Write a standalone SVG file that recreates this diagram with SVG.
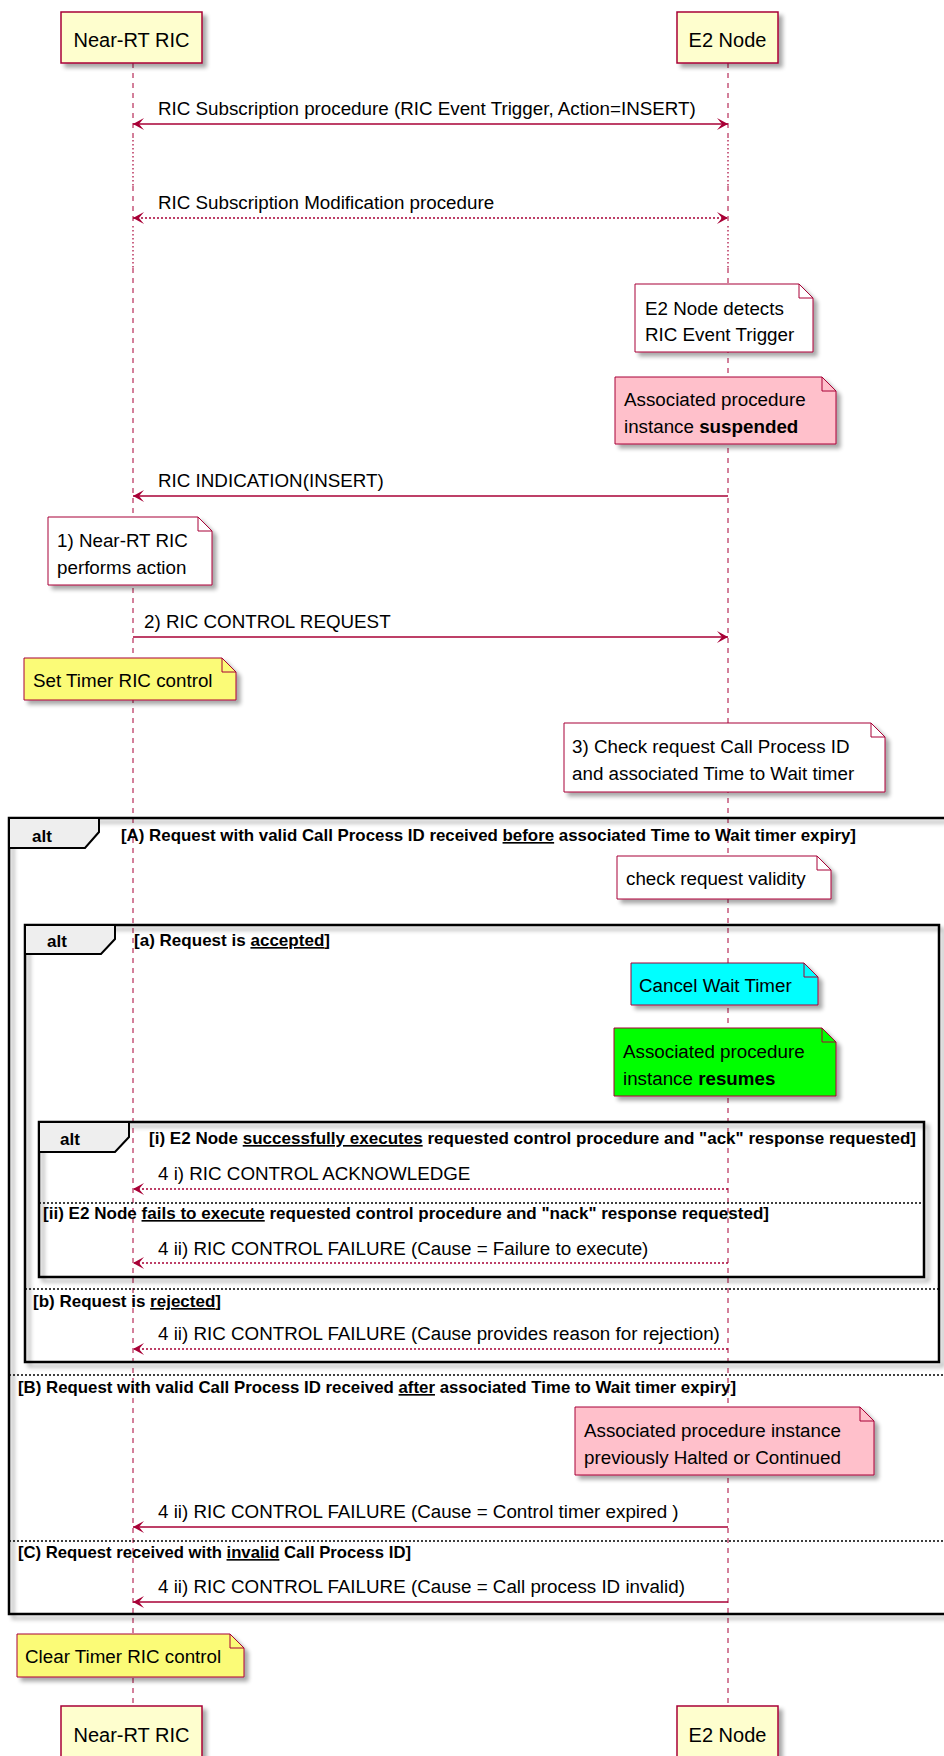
<svg xmlns="http://www.w3.org/2000/svg" width="944" height="1756" viewBox="0 0 944 1756">
<style>
.ll{stroke:#A80036;stroke-width:1;stroke-dasharray:5,5;fill:none}
.lld{stroke:#A80036;stroke-width:1.2;stroke-dasharray:1.5,2.5;fill:none}
.part{fill:#FEFECE;stroke:#A80036;stroke-width:1.5}
.msg{stroke:#A80036;stroke-width:1.5;fill:none}
.dot{stroke-dasharray:2,2}
.note{stroke:#A80036;stroke-width:1}
.frame{fill:none;stroke:#000;stroke-width:2.5}
.tab{fill:#EEEEEE;stroke:#000;stroke-width:2}
.sep{stroke:#000;stroke-width:1.5;stroke-dasharray:2,2;fill:none}
text{font-family:"Liberation Sans",Arial,sans-serif;fill:#000}
.t{font-size:18.8px}
.p{font-size:20px}
.g{font-size:16.5px;font-weight:bold}
.alt{font-size:17px;font-weight:bold}
.u{text-decoration:underline}
.b{font-weight:bold}
</style>
<defs>
<filter id="sh" x="-10%" y="-10%" width="130%" height="150%">
<feGaussianBlur in="SourceAlpha" stdDeviation="2"/>
<feOffset dx="4" dy="4" result="o"/>
<feComponentTransfer><feFuncA type="linear" slope="0.35"/></feComponentTransfer>
<feMerge><feMergeNode/><feMergeNode in="SourceGraphic"/></feMerge>
</filter>
<marker id="ah" viewBox="0 -6 11 12" refX="11" refY="0" markerWidth="11" markerHeight="12" markerUnits="userSpaceOnUse" orient="auto-start-reverse">
<path d="M0,-6 L11,0 L0,6 L5,0 Z" fill="#A80036"/>
</marker>
</defs>
<rect width="944" height="1756" fill="#fff"/>

<g id="lifelines">
<path class="ll" d="M133,63 V140 M133,186 V226 M133,268 V1706"/>
<path class="lld" d="M133,140 V186 M133,226 V268"/>
<path class="ll" d="M728,63 V140 M728,186 V226 M728,268 V1706"/>
<path class="lld" d="M728,140 V186 M728,226 V268"/>
</g>

<g id="frame-A">
<rect class="frame" x="9" y="818" width="940" height="796" filter="url(#sh)"/>
<path class="tab" d="M9,818 H99 V832 L85,848 H9 Z"/>
<text class="alt" x="32" y="842">alt</text>
<text class="g" x="121" y="841" textLength="735" lengthAdjust="spacingAndGlyphs">[A) Request with valid Call Process ID received <tspan class="u">before</tspan> associated Time to Wait timer expiry]</text>
<path class="sep" d="M9,1375 H944 M9,1541 H944"/>
<text class="g" x="18" y="1393" textLength="718" lengthAdjust="spacingAndGlyphs">[B) Request with valid Call Process ID received <tspan class="u">after</tspan> associated Time to Wait timer expiry]</text>
<text class="g" x="18" y="1558" textLength="393" lengthAdjust="spacingAndGlyphs">[C) Request received with <tspan class="u">invalid</tspan> Call Process ID]</text>
</g>

<g id="frame-a">
<rect class="frame" x="25" y="925" width="914" height="437" filter="url(#sh)"/>
<path class="tab" d="M25,925 H115 V939 L101,954 H25 Z"/>
<text class="alt" x="47" y="947">alt</text>
<text class="g" x="134" y="946" textLength="196" lengthAdjust="spacingAndGlyphs">[a) Request is <tspan class="u">accepted</tspan>]</text>
<path class="sep" d="M25,1289 H939"/>
<text class="g" x="33" y="1307" textLength="188" lengthAdjust="spacingAndGlyphs">[b) Request is <tspan class="u">rejected</tspan>]</text>
</g>

<g id="frame-i">
<rect class="frame" x="39" y="1122" width="885" height="155" filter="url(#sh)"/>
<path class="tab" d="M39,1122 H129 V1137 L115,1152 H39 Z"/>
<text class="alt" x="60" y="1145">alt</text>
<text class="g" x="149" y="1144" textLength="767" lengthAdjust="spacingAndGlyphs">[i) E2 Node <tspan class="u">successfully executes</tspan> requested control procedure and "ack" response requested]</text>
<path class="sep" d="M39,1203 H924"/>
<text class="g" x="43" y="1219" textLength="726" lengthAdjust="spacingAndGlyphs">[ii) E2 Node <tspan class="u">fails to execute</tspan> requested control procedure and "nack" response requested]</text>
</g>

<g id="p-ric-head">
<rect class="part" x="61" y="12" width="141" height="51" filter="url(#sh)"/>
<text class="p" x="131.5" y="47" text-anchor="middle">Near-RT RIC</text>
</g>
<g id="p-e2-head">
<rect class="part" x="677" y="12" width="101" height="51" filter="url(#sh)"/>
<text class="p" x="727.5" y="47" text-anchor="middle">E2 Node</text>
</g>
<g id="p-ric-foot">
<rect class="part" x="61" y="1706" width="141" height="51" filter="url(#sh)"/>
<text class="p" x="131.5" y="1742" text-anchor="middle">Near-RT RIC</text>
</g>
<g id="p-e2-foot">
<rect class="part" x="677" y="1706" width="101" height="51" filter="url(#sh)"/>
<text class="p" x="727.5" y="1742" text-anchor="middle">E2 Node</text>
</g>

<g id="note-detects">
<path class="note" fill="#FFFFFF" filter="url(#sh)" d="M635,284 H799 L813,298 V352 H635 Z"/>
<path class="note" fill="none" d="M799,284 V298 H813"/>
<text class="t" x="645" y="315">E2 Node detects</text>
<text class="t" x="645" y="341">RIC Event Trigger</text>
</g>
<g id="note-suspended">
<path class="note" fill="#FFC0CB" filter="url(#sh)" d="M615,377 H822 L836,391 V444 H615 Z"/>
<path class="note" fill="none" d="M822,377 V391 H836"/>
<text class="t" x="624" y="406">Associated procedure</text>
<text class="t" x="624" y="433">instance <tspan class="b">suspended</tspan></text>
</g>
<g id="note-performs">
<path class="note" fill="#FFFFFF" filter="url(#sh)" d="M48,517 H198 L212,531 V585 H48 Z"/>
<path class="note" fill="none" d="M198,517 V531 H212"/>
<text class="t" x="57" y="547">1) Near-RT RIC</text>
<text class="t" x="57" y="574">performs action</text>
</g>
<g id="note-settimer">
<path class="note" fill="#FBFB77" filter="url(#sh)" d="M24,658 H222 L236,672 V700 H24 Z"/>
<path class="note" fill="none" d="M222,658 V672 H236"/>
<text class="t" x="33" y="687">Set Timer RIC control</text>
</g>
<g id="note-check">
<path class="note" fill="#FFFFFF" filter="url(#sh)" d="M564,723 H871 L885,737 V792 H564 Z"/>
<path class="note" fill="none" d="M871,723 V737 H885"/>
<text class="t" x="572" y="753">3) Check request Call Process ID</text>
<text class="t" x="572" y="780">and associated Time to Wait timer</text>
</g>
<g id="note-validity">
<path class="note" fill="#FFFFFF" filter="url(#sh)" d="M617,856 H817 L831,870 V899 H617 Z"/>
<path class="note" fill="none" d="M817,856 V870 H831"/>
<text class="t" x="626" y="885">check request validity</text>
</g>
<g id="note-cancel">
<path class="note" fill="#00FFFF" filter="url(#sh)" d="M631,963 H804 L818,977 V1005 H631 Z"/>
<path class="note" fill="none" d="M804,963 V977 H818"/>
<text class="t" x="639" y="992">Cancel Wait Timer</text>
</g>
<g id="note-resumes">
<path class="note" fill="#00FF00" filter="url(#sh)" d="M614,1028 H822 L836,1042 V1096 H614 Z"/>
<path class="note" fill="none" d="M822,1028 V1042 H836"/>
<text class="t" x="623" y="1058">Associated procedure</text>
<text class="t" x="623" y="1085">instance <tspan class="b">resumes</tspan></text>
</g>
<g id="note-halted">
<path class="note" fill="#FFC0CB" filter="url(#sh)" d="M575,1407 H860 L874,1421 V1475 H575 Z"/>
<path class="note" fill="none" d="M860,1407 V1421 H874"/>
<text class="t" x="584" y="1437">Associated procedure instance</text>
<text class="t" x="584" y="1464">previously Halted or Continued</text>
</g>
<g id="note-cleartimer">
<path class="note" fill="#FBFB77" filter="url(#sh)" d="M17,1634 H230 L244,1648 V1677 H17 Z"/>
<path class="note" fill="none" d="M230,1634 V1648 H244"/>
<text class="t" x="25" y="1663">Clear Timer RIC control</text>
</g>

<g id="connectors">
<line class="msg" x1="133" y1="124" x2="728" y2="124" marker-start="url(#ah)" marker-end="url(#ah)"/>
<text class="t" x="158" y="115">RIC Subscription procedure (RIC Event Trigger, Action=INSERT)</text>
<line class="msg dot" x1="133" y1="218" x2="728" y2="218" marker-start="url(#ah)" marker-end="url(#ah)"/>
<text class="t" x="158" y="209">RIC Subscription Modification procedure</text>
<line class="msg" x1="728" y1="496" x2="133" y2="496" marker-end="url(#ah)"/>
<text class="t" x="158" y="487">RIC INDICATION(INSERT)</text>
<line class="msg" x1="133" y1="637" x2="728" y2="637" marker-end="url(#ah)"/>
<text class="t" x="144" y="628">2) RIC CONTROL REQUEST</text>
<line class="msg dot" x1="728" y1="1189" x2="133" y2="1189" marker-end="url(#ah)"/>
<text class="t" x="158" y="1180">4 i) RIC CONTROL ACKNOWLEDGE</text>
<line class="msg dot" x1="728" y1="1263" x2="133" y2="1263" marker-end="url(#ah)"/>
<text class="t" x="158" y="1255">4 ii) RIC CONTROL FAILURE (Cause = Failure to execute)</text>
<line class="msg dot" x1="728" y1="1349" x2="133" y2="1349" marker-end="url(#ah)"/>
<text class="t" x="158" y="1340">4 ii) RIC CONTROL FAILURE (Cause provides reason for rejection)</text>
<line class="msg" x1="728" y1="1527" x2="133" y2="1527" marker-end="url(#ah)"/>
<text class="t" x="158" y="1518">4 ii) RIC CONTROL FAILURE (Cause = Control timer expired )</text>
<line class="msg" x1="728" y1="1602" x2="133" y2="1602" marker-end="url(#ah)"/>
<text class="t" x="158" y="1593">4 ii) RIC CONTROL FAILURE (Cause = Call process ID invalid)</text>
</g>
</svg>
